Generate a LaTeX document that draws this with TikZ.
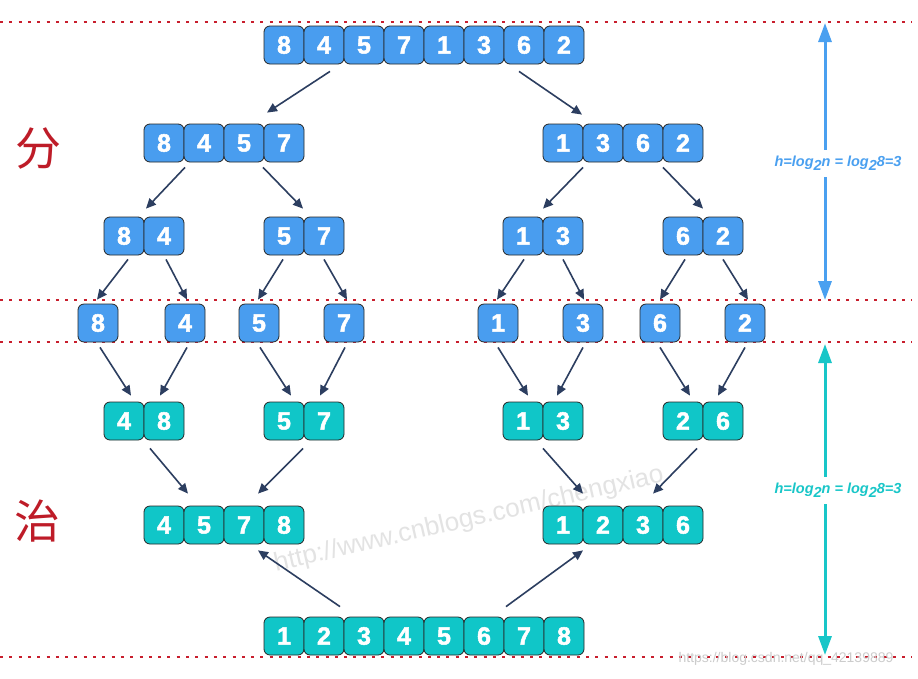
\documentclass[tikz,border=0pt]{standalone}
\usepackage{fontspec}
\setmainfont{Liberation Sans}[BoldFeatures={FakeBold=2}]
\newfontfamily\cjk{Noto Sans CJK SC}
\usetikzlibrary{arrows.meta,calc}
\definecolor{boxblue}{RGB}{73,157,239}
\definecolor{boxteal}{RGB}{16,198,200}
\definecolor{annblue}{RGB}{74,160,240}
\definecolor{annteal}{RGB}{24,198,200}
\definecolor{dashred}{RGB}{200,30,45}
\definecolor{hanred}{RGB}{190,28,40}
\definecolor{navy}{RGB}{44,62,96}
\tikzset{
  cell/.style={draw=black!85, line width=0.8pt, rounded corners=6pt, minimum width=40pt, minimum height=38pt, inner sep=0pt, text=white, font=\bfseries\fontsize{25}{25}\selectfont},
  bcell/.style={cell, fill=boxblue},
  tcell/.style={cell, fill=boxteal},
  arr/.style={draw=navy, line width=1.6pt, -{Triangle[length=10pt,width=9pt]}},
  redline/.style={draw=dashred, line width=1.6pt, dash pattern=on 3pt off 6.3pt},
  annarrow/.style={line width=3pt, {Triangle[length=19pt,width=13pt]}-{Triangle[length=19pt,width=13pt]}},
  ann/.style={fill=white, inner sep=1pt, minimum height=27pt, font=\bfseries\itshape\fontsize{14.5}{14.5}\selectfont},
  han/.style={text=hanred, font=\cjk\fontsize{46}{46}\selectfont},
}
\newcommand\sbtwo{\raisebox{-3.5pt}{2}}
\begin{document}
\begin{tikzpicture}[x=1pt,y=-1pt]
\useasboundingbox[fill=white] (0,0) rectangle (918,678);
% watermarks
\node[text=black!11, rotate=13, font=\fontsize{26}{26}\selectfont] (wm1) at (469,520) {http://www.cnblogs.com/chengxiao};
% red dashed lines
\coordinate (l1a) at (0,22);  \coordinate (l1b) at (912,22);
\coordinate (l2a) at (0,300); \coordinate (l2b) at (912,300);
\coordinate (l3a) at (0,342); \coordinate (l3b) at (912,342);
\coordinate (l4a) at (0,657); \coordinate (l4b) at (912,657);
\draw[redline] (l1a) -- (l1b);
\draw[redline] (l2a) -- (l2b);
\draw[redline] (l3a) -- (l3b);
\draw[redline] (l4a) -- (l4b);
\node[text=black!20, font=\fontsize{14}{14}\selectfont] (wm2) at (786,659) {https://blog.csdn.net/qq\_42139889};
% rows
\foreach \d [count=\i] in {8,4,5,7,1,3,6,2} \node[bcell] (r0-\i) at ({244+40*\i},45) {\d};
\foreach \d [count=\i] in {8,4,5,7} \node[bcell] (r1a-\i) at ({124+40*\i},143) {\d};
\foreach \d [count=\i] in {1,3,6,2} \node[bcell] (r1b-\i) at ({523+40*\i},143) {\d};
\foreach \d [count=\i] in {8,4} \node[bcell] (r2a-\i) at ({84+40*\i},236) {\d};
\foreach \d [count=\i] in {5,7} \node[bcell] (r2b-\i) at ({244+40*\i},236) {\d};
\foreach \d [count=\i] in {1,3} \node[bcell] (r2c-\i) at ({483+40*\i},236) {\d};
\foreach \d [count=\i] in {6,2} \node[bcell] (r2d-\i) at ({643+40*\i},236) {\d};
\node[bcell] (s1) at (98,323) {8};
\node[bcell] (s2) at (185,323) {4};
\node[bcell] (s3) at (259,323) {5};
\node[bcell] (s4) at (344,323) {7};
\node[bcell] (s5) at (498,323) {1};
\node[bcell] (s6) at (583,323) {3};
\node[bcell] (s7) at (660,323) {6};
\node[bcell] (s8) at (745,323) {2};
\foreach \d [count=\i] in {4,8} \node[tcell] (r4a-\i) at ({84+40*\i},421) {\d};
\foreach \d [count=\i] in {5,7} \node[tcell] (r4b-\i) at ({244+40*\i},421) {\d};
\foreach \d [count=\i] in {1,3} \node[tcell] (r4c-\i) at ({483+40*\i},421) {\d};
\foreach \d [count=\i] in {2,6} \node[tcell] (r4d-\i) at ({643+40*\i},421) {\d};
\foreach \d [count=\i] in {4,5,7,8} \node[tcell] (r5a-\i) at ({124+40*\i},525) {\d};
\foreach \d [count=\i] in {1,2,3,6} \node[tcell] (r5b-\i) at ({523+40*\i},525) {\d};
\foreach \d [count=\i] in {1,2,3,4,5,6,7,8} \node[tcell] (r6-\i) at ({244+40*\i},636) {\d};
% arrows: divide
\draw[arr] ($(r0-2.south)+(6,7)$) -- ($(r1a-4.north)+(-17,-11)$);
\draw[arr] ($(r0-7.south)+(-5,7)$) -- ($(r1b-1.north)+(19,-9)$);
\draw[arr] ($(r1a-2.south)+(-19,5)$) -- ($(r2a-1.north)+(22,-8)$);
\draw[arr] ($(r1a-3.south)+(19,5)$) -- ($(r2b-2.north)+(-21,-8)$);
\draw[arr] ($(r1b-1.south)+(20,5)$) -- ($(r2c-1.north)+(20,-8)$);
\draw[arr] ($(r1b-3.south)+(20,5)$) -- ($(r2d-2.north)+(-20,-8)$);
\draw[arr] ($(r2a-1.south)+(4,4)$) -- ($(s1.north)+(-1,-4)$);
\draw[arr] ($(r2a-2.south)+(2,4)$) -- ($(s2.north)+(2,-4)$);
\draw[arr] ($(r2b-1.south)+(-1,4)$) -- ($(s3.north)+(-1,-4)$);
\draw[arr] ($(r2b-2.south)+(0,4)$) -- ($(s4.north)+(3,-4)$);
\draw[arr] ($(r2c-1.south)+(1,4)$) -- ($(s5.north)+(-1,-4)$);
\draw[arr] ($(r2c-2.south)+(0,4)$) -- ($(s6.north)+(1,-4)$);
\draw[arr] ($(r2d-1.south)+(2,4)$) -- ($(s7.north)+(0,-4)$);
\draw[arr] ($(r2d-2.south)+(0,4)$) -- ($(s8.north)+(3,-4)$);
% arrows: merge
\draw[arr] ($(s1.south)+(2,5)$) -- ($(r4a-1.north)+(7,-6)$);
\draw[arr] ($(s2.south)+(2,5)$) -- ($(r4a-2.north)+(-4,-6)$);
\draw[arr] ($(s3.south)+(1,5)$) -- ($(r4b-1.north)+(7,-6)$);
\draw[arr] ($(s4.south)+(1,5)$) -- ($(r4b-2.north)+(-4,-6)$);
\draw[arr] ($(s5.south)+(0,5)$) -- ($(r4c-1.north)+(5,-6)$);
\draw[arr] ($(s6.south)+(0,5)$) -- ($(r4c-2.north)+(-6,-6)$);
\draw[arr] ($(s7.south)+(0,5)$) -- ($(r4d-1.north)+(7,-6)$);
\draw[arr] ($(s8.south)+(0,5)$) -- ($(r4d-2.north)+(-5,-6)$);
\draw[arr] ($(r4a-2.south)+(-14,8)$) -- ($(r5a-2.north)+(-16,-12)$);
\draw[arr] ($(r4b-1.south)+(19,8)$) -- ($(r5a-3.north)+(14,-12)$);
\draw[arr] ($(r4c-1.south)+(20,8)$) -- ($(r5b-1.north)+(20,-12)$);
\draw[arr] ($(r4d-1.south)+(14,8)$) -- ($(r5b-3.north)+(10,-12)$);
\draw[arr] ($(r6-2.north)+(16,-10)$) -- ($(r5a-3.south)+(14,6)$);
\draw[arr] ($(r6-6.north)+(22,-10)$) -- ($(r5b-1.south)+(20,6)$);
% han characters
\node[han] (fen) at (38,148) {分};
\node[han] (zhi) at (37,521) {治};
% height annotations
\coordinate (ha1) at (825,23); \coordinate (ha2) at (825,300);
\coordinate (hb1) at (825,344); \coordinate (hb2) at (825,655);
\draw[annarrow, draw=annblue, fill=annblue] (ha1) -- (ha2);
\draw[annarrow, draw=annteal, fill=annteal] (hb1) -- (hb2);
\node[ann, text=annblue] (hta) at (838,163) {h=log\sbtwo n = log\sbtwo 8=3};
\node[ann, text=annteal] (htb) at (838,490) {h=log\sbtwo n = log\sbtwo 8=3};
\end{tikzpicture}
\end{document}
